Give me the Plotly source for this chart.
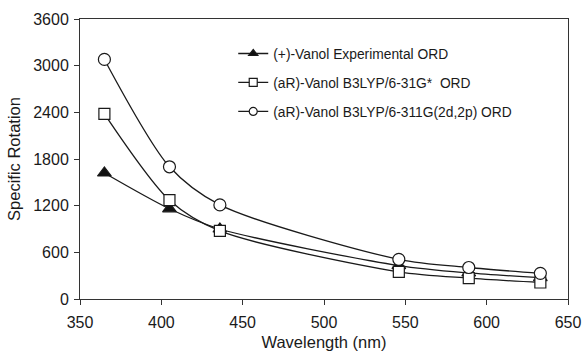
import plotly.graph_objects as go

wavelength = [365, 405, 436, 546, 589, 633]
exp_ord = [1620, 1160, 900, 430, 335, 275]
b3lyp_631 = [2380, 1270, 875, 350, 268, 212]
b3lyp_6311 = [3080, 1700, 1210, 510, 405, 330]

names = ["(+)-Vanol Experimental ORD",
         "(aR)-Vanol B3LYP/6-31G*  ORD",
         "(aR)-Vanol B3LYP/6-311G(2d,2p) ORD"]
series = [exp_ord, b3lyp_631, b3lyp_6311]
symbols = ["triangle-up", "square", "circle"]
fills = ["#111111", "white", "white"]
sizes = [12, 11, 12]

INK = "#1a1a1a"
fig = go.Figure()
for i, (n, s, sym, fc, sz) in enumerate(zip(names, series, symbols, fills, sizes)):
    fig.add_trace(go.Scatter(
        x=wavelength, y=s, name=n, mode="lines+markers", showlegend=False,
        line=dict(color=INK, width=1.3, shape="spline", smoothing=0.8),
        marker=dict(symbol=sym, size=sz, color=fc, line=dict(color=INK, width=1.2)),
    ))
for i, (n, sym, fc) in enumerate(zip(names, symbols, fills)):
    fig.add_trace(go.Scatter(
        x=[None], y=[None], name=n, mode="lines+markers", legendgroup=str(i),
        line=dict(color=INK, width=1.3),
        marker=dict(symbol=sym, size=8, color=fc, line=dict(color=INK, width=1.2)),
    ))

fig.update_layout(
    width=587, height=357,
    margin=dict(l=80, r=19, t=19, b=58),
    paper_bgcolor="white", plot_bgcolor="white",
    font=dict(family="Liberation Sans, Arial, sans-serif", color=INK),
    showlegend=True,
    legend=dict(x=0.314, y=0.932, xanchor="left", yanchor="top",
                bgcolor="rgba(0,0,0,0)", font=dict(size=13.8),
                tracegroupgap=8, itemwidth=30),
    xaxis=dict(range=[350, 650], tickvals=[350, 400, 450, 500, 550, 600, 650],
               showgrid=False, zeroline=False, showline=True, linecolor="#333",
               linewidth=1, mirror=True, ticks="outside", ticklen=5,
               tickcolor="#333", tickfont=dict(size=16), automargin=False,
               ticklabelstandoff=4,
               title=dict(text="Wavelength (nm)", font=dict(size=16.5), standoff=6)),
    yaxis=dict(range=[0, 3600], tickvals=[0, 600, 1200, 1800, 2400, 3000, 3600],
               showgrid=False, zeroline=False, showline=True, linecolor="#333",
               linewidth=1, mirror=True, ticks="outside", ticklen=5,
               tickcolor="#333", tickfont=dict(size=16), automargin=False,
               ticklabelstandoff=2,
               title=dict(text="Specific Rotation", font=dict(size=16.5), standoff=8)),
)
fig.write_html("out.html", config={"displayModeBar": False},
               post_script="document.body.style.margin='0';")
